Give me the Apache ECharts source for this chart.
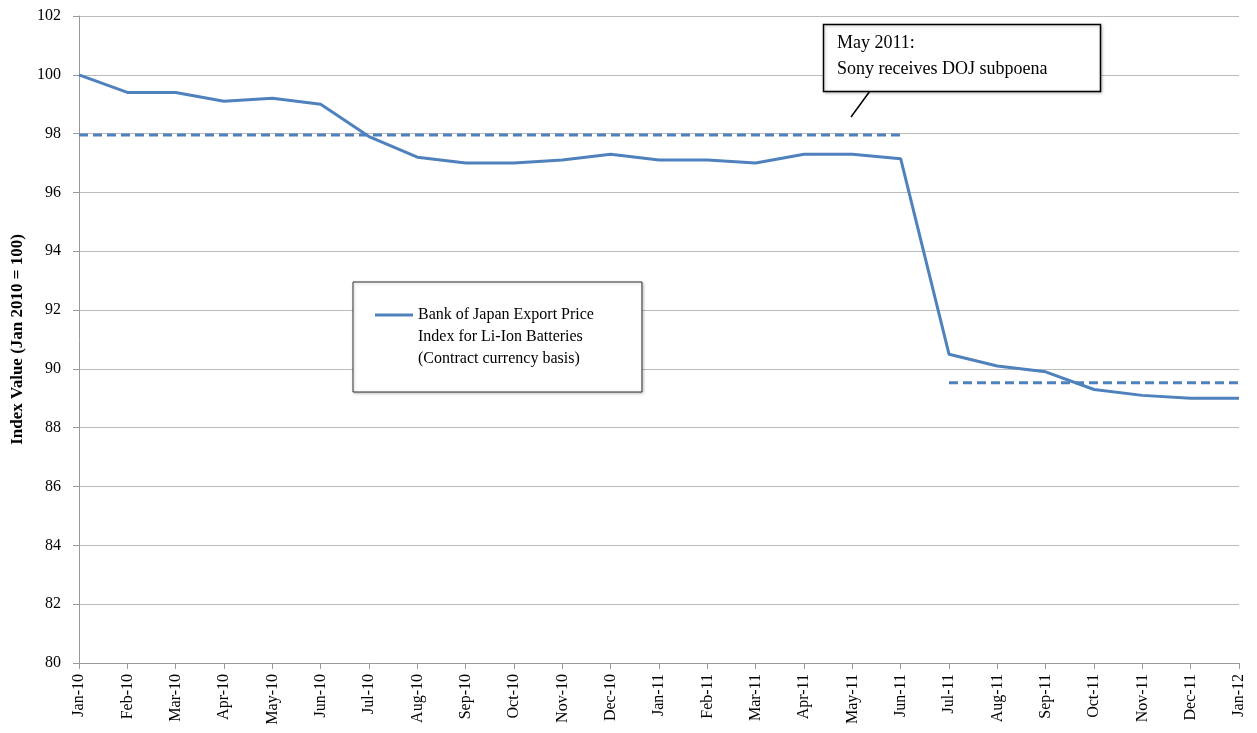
<!DOCTYPE html>
<html>
<head>
<meta charset="utf-8">
<script src="https://cdn.jsdelivr.net/npm/echarts@6/dist/echarts.min.js"></script>
<style>
  html, body { margin: 0; padding: 0; background: #fff; }
  #chart { width: 1257px; height: 733px; }
</style>
</head>
<body>
<div id="chart"></div>
<script>
// months, Jan-10 .. Jan-12
const months = ['Jan-10','Feb-10','Mar-10','Apr-10','May-10','Jun-10','Jul-10','Aug-10','Sep-10','Oct-10','Nov-10','Dec-10',
  'Jan-11','Feb-11','Mar-11','Apr-11','May-11','Jun-11','Jul-11','Aug-11','Sep-11','Oct-11','Nov-11','Dec-11','Jan-12']
// index values
const priceIndex = [100.0, 99.4, 99.4, 99.1, 99.2, 99.0, 97.9, 97.2, 97.0, 97.0, 97.1, 97.3,
  97.1, 97.1, 97.0, 97.3, 97.3, 97.15, 90.5, 90.1, 89.9, 89.3, 89.1, 89.0, 89.0]
// average before / after the subpoena
const avgBefore = 97.95
const avgAfter = 89.53
const beforeEnd = 17 // Jun-11
const afterStart = 18 // Jul-11

const seriesName = 'Bank of Japan Export Price\nIndex for Li-Ion Batteries\n(Contract currency basis)'
const serif = '"Liberation Serif", "Times New Roman", serif'

const avgLine1 = months.map((m, i) => i <= beforeEnd ? avgBefore : null)
const avgLine2 = months.map((m, i) => i >= afterStart ? avgAfter : null)

// legend icon: short line at the height of the first text line
const legendIcon = 'path://M0,0H0.01V0.01H0Z M0,9.5H38V12.5H0Z M0,65.99H0.01V66H0Z'

const chart = echarts.init(document.getElementById('chart'))
const option = {
  animation: false,
  textStyle: { fontFamily: serif },
  grid: { left: 79, right: 18, top: 16, bottom: 70, outerBoundsMode: 'none' },
  legend: {
    data: [seriesName],
    icon: legendIcon,
    left: 353,
    top: 282,
    orient: 'vertical',
    padding: [22, 48, 22, 22],
    borderColor: '#333',
    borderWidth: 1,
    backgroundColor: '#fff',
    itemWidth: 38,
    itemHeight: 66,
    itemStyle: { borderWidth: 0 },
    textStyle: { fontFamily: serif, fontSize: 16, color: '#000', lineHeight: 22 },
    shadowColor: 'rgba(0,0,0,0.25)',
    shadowBlur: 3,
    shadowOffsetX: 1,
    shadowOffsetY: 1
  },
  xAxis: {
    type: 'category',
    data: months,
    boundaryGap: false,
    axisLine: { lineStyle: { color: '#9a9a9a' } },
    axisTick: { show: true, length: 6, lineStyle: { color: '#9a9a9a' } },
    axisLabel: { rotate: 90, interval: 0, fontFamily: serif, fontSize: 16, color: '#000', margin: 11 }
  },
  yAxis: {
    type: 'value',
    min: 80,
    max: 102,
    interval: 2,
    name: 'Index Value (Jan 2010 = 100)',
    nameLocation: 'middle',
    nameGap: 53,
    nameTextStyle: { fontFamily: serif, fontSize: 17, fontWeight: 'bold', color: '#000' },
    axisLine: { show: true, lineStyle: { color: '#9a9a9a' } },
    axisTick: { show: true, length: 6, lineStyle: { color: '#9a9a9a' } },
    axisLabel: { fontFamily: serif, fontSize: 16, color: '#000', margin: 18 },
    splitLine: { lineStyle: { color: '#bcbcbc', width: 1 } }
  },
  series: [
    {
      name: seriesName,
      type: 'line',
      data: priceIndex,
      symbol: 'none',
      lineStyle: { color: '#4f81bd', width: 3 },
      itemStyle: { color: '#4f81bd' },
      z: 3
    },
    {
      name: 'avg1',
      type: 'line',
      data: avgLine1,
      symbol: 'none',
      lineStyle: { color: '#4f81bd', width: 3, type: [9, 5] },
      z: 2
    },
    {
      name: 'avg2',
      type: 'line',
      data: avgLine2,
      symbol: 'none',
      lineStyle: { color: '#4f81bd', width: 3, type: [9, 5] },
      z: 2
    }
  ],
  graphic: [
    {
      type: 'line',
      shape: { x1: 870, y1: 91, x2: 851, y2: 117 },
      style: { stroke: '#000', lineWidth: 1.5 },
      z: 10
    },
    {
      type: 'rect',
      shape: { x: 823.5, y: 24.5, width: 277, height: 67 },
      style: { fill: '#fff', stroke: '#000', lineWidth: 1.5, shadowColor: 'rgba(0,0,0,0.25)', shadowBlur: 3, shadowOffsetX: 1, shadowOffsetY: 1 },
      z: 10
    },
    {
      type: 'text',
      left: 837,
      top: 30,
      style: {
        text: 'May 2011:\nSony receives DOJ subpoena',
        font: '18px ' + serif,
        fill: '#000',
        lineHeight: 26
      },
      z: 11
    }
  ]
}
chart.setOption(option)
window.addEventListener('resize', function () {
  chart.resize()
})
</script>
</body>
</html>
